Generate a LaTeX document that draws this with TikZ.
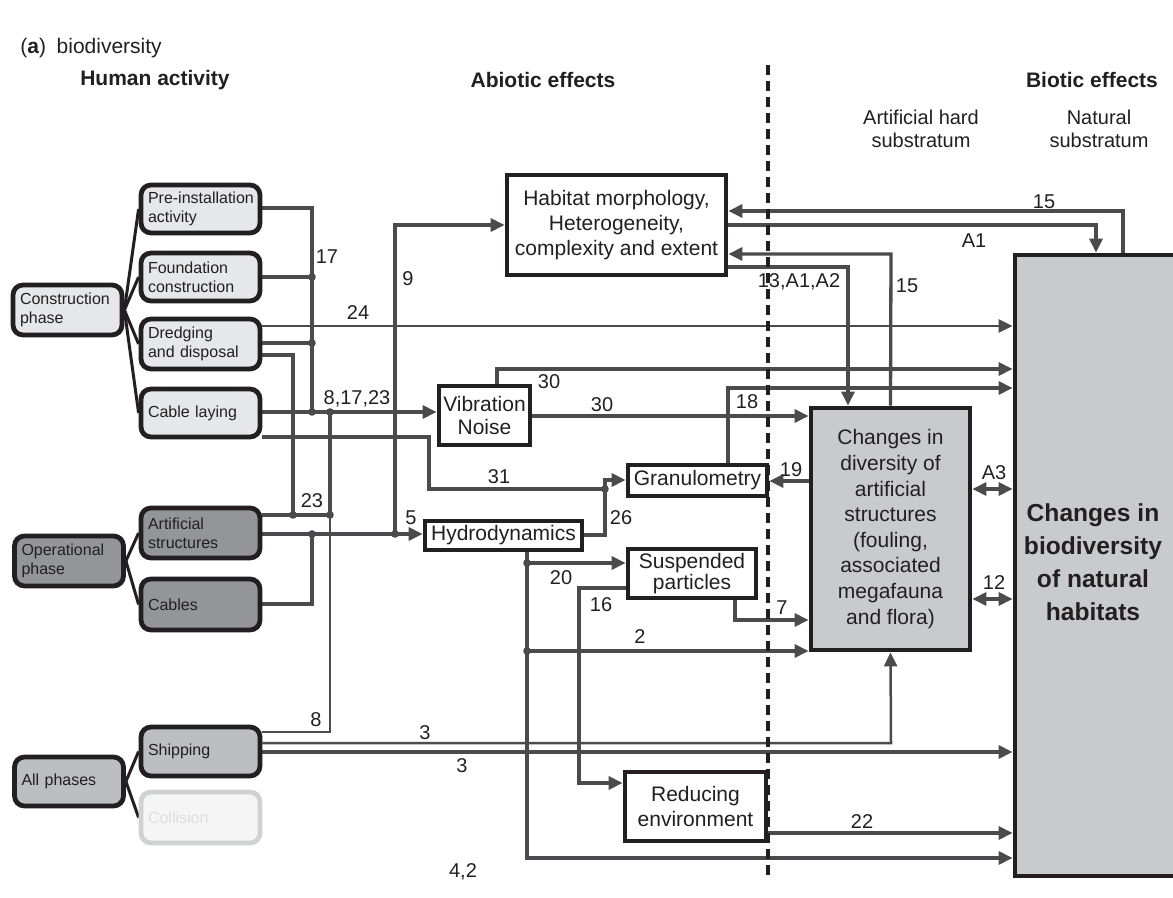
\documentclass[tikz,border=0pt]{standalone}
\usepackage{fontspec}
\setmainfont{Liberation Sans}
\usetikzlibrary{arrows.meta,calc}
\pgfdeclarelayer{bg}
\pgfsetlayers{bg,main}
\definecolor{linec}{HTML}{4B4B4D}
\definecolor{boxc}{HTML}{231F20}
\definecolor{txtc}{HTML}{231F20}
\definecolor{lfill}{HTML}{E6E7E8}
\definecolor{dfill}{HTML}{939598}
\definecolor{mfill}{HTML}{BCBEC0}
\definecolor{gfill}{HTML}{C9CACC}
\definecolor{cfill}{HTML}{F5F5F5}
\definecolor{cline}{HTML}{D0D1D3}
\definecolor{ctxt}{HTML}{DCDDDE}
\begin{document}
\begin{tikzpicture}[x=0.5pt,y=-0.5pt,
  every node/.style={text=txtc},
  conn/.style={draw=linec, line width=1.65pt},
  thinconn/.style={draw=linec, line width=1.25pt},
  arr/.style={-{Triangle[length=7pt,width=6.5pt]}},
  darr/.style={{Triangle[length=7pt,width=6.5pt]}-{Triangle[length=7pt,width=6.5pt]}},
  fan/.style={draw=boxc, line width=1.5pt},
  sbox/.style={draw=boxc, line width=2.4pt, rounded corners=5pt, inner xsep=3.5pt, inner ysep=0pt,
     font=\fontsize{8}{9.6}\selectfont, align=left, text width=52.5pt, minimum height=24pt},
  pbox/.style={sbox, text width=47.5pt, minimum height=25pt},
  mbox/.style={draw=boxc, line width=2.4pt, fill=white, inner sep=0pt, align=center,
     font=\fontsize{10.5}{12.5}\selectfont},
  lab/.style={font=\fontsize{10}{12}\selectfont, inner sep=0pt},
  hdr/.style={font=\bfseries\fontsize{10.5}{12.5}\selectfont, inner sep=0pt},
  sub/.style={font=\fontsize{10}{11.5}\selectfont, align=center, inner sep=0pt},
  dot/.style={fill=linec}
]
\useasboundingbox (0,0) rectangle (1173,898);
\clip (0,0) rectangle (1173,898);

% headers
\node[font=\fontsize{10.5}{12.5}\selectfont, anchor=west, inner sep=0pt] (title) at (20,48) {(\textbf{a})\enspace biodiversity};
\node[hdr] (hh) at (155,80) {Human activity};
\node[hdr] (ha) at (543,80) {Abiotic effects};
\node[hdr] (hb) at (1092,80) {Biotic effects};
\node[sub] (hart) at (921,129) {Artificial hard\\substratum};
\node[sub] (hnat) at (1099,129) {Natural\\substratum};

% left column
\node[pbox, fill=lfill] (cons) at (67.5,310) {Construction\\phase};
\node[sbox, fill=lfill] (pre) at (200.5,209) {\mbox{Pre-installation}\\activity};
\node[sbox, fill=lfill] (found) at (200.5,277) {Foundation\\construction};
\node[sbox, fill=lfill, minimum height=25pt] (dred) at (200.5,344) {Dredging\\and disposal};
\node[sbox, fill=lfill] (cable) at (200.5,413) {Cable laying};
\node[pbox, fill=dfill] (oper) at (69,561) {Operational\\phase};
\node[sbox, fill=dfill, minimum height=25pt] (art) at (200.5,533) {Artificial\\structures};
\node[sbox, fill=dfill, minimum height=25.5pt] (cbl) at (200.5,604.5) {Cables};
\node[pbox, fill=mfill, minimum height=24.5pt] (allph) at (69,781.5) {All phases};
\node[sbox, fill=mfill, minimum height=24.5pt] (ship) at (200.5,751.5) {Shipping};
\node[sbox, fill=cfill, draw=cline, minimum height=25.5pt, text=ctxt] (coll) at (200.5,817.5) {Collision};

% middle boxes
\node[mbox, minimum width=109.5pt, minimum height=50pt] (hab) at (616.5,225) {Habitat morphology,\\Heterogeneity,\\complexity and extent};
\node[mbox, minimum width=45.5pt, minimum height=29.5pt, font=\fontsize{10.5}{11.2}\selectfont] (vib) at (484.5,415.5) {Vibration\\Noise};
\node[mbox, minimum width=78.5pt, minimum height=14.5pt] (hyd) at (503.5,535.5) {Hydrodynamics};
\node[mbox, minimum width=69.5pt, minimum height=15.5pt] (gran) at (697.5,480.5) {Granulometry};
\node[mbox, minimum width=64pt, minimum height=24.5pt, font=\fontsize{10.5}{10.8}\selectfont] (susp) at (692,573.5) {Suspended\\particles};
\node[mbox, minimum width=70.5pt, minimum height=34.5pt] (red) at (695.5,806.5) {Reducing\\environment};
\node[mbox, fill=gfill, minimum width=79.5pt, minimum height=121pt, font=\fontsize{10.5}{12.8}\selectfont] (chg) at (890.5,529) {Changes in\\diversity of\\artificial\\structures\\(fouling,\\associated\\megafauna\\and flora)};
\node[draw=boxc, line width=2.4pt, fill=gfill, inner sep=0pt, minimum width=100pt, minimum height=310.5pt] (big) at (1115,565.5) {};
\node[font=\bfseries\fontsize{12.3}{16.5}\selectfont, align=center, inner sep=0pt] (bigt) at (1093,562) {Changes in\\biodiversity\\of natural\\habitats};

% junction coordinates
\coordinate (jf) at (312,277);
\coordinate (jd) at (312,343);
\coordinate (j17) at (312,412);
\coordinate (j8) at (330,412);
\coordinate (j23a) at (293,515);
\coordinate (j23b) at (330,515);
\coordinate (j5a) at (312,534);
\coordinate (j9) at (395,534);
\coordinate (j31) at (605,489);
\coordinate (j20) at (527,563);
\coordinate (j2) at (527,651);

\begin{pgfonlayer}{bg}
% fan lines
\draw[fan] (cons.east) -- (pre.west);
\draw[fan] (cons.east) -- (found.west);
\draw[fan] (cons.east) -- (dred.west);
\draw[fan] (cons.east) -- (cable.west);
\draw[fan] (oper.east) -- (art.west);
\draw[fan] (oper.east) -- (cbl.west);
\draw[fan] (allph.east) -- (ship.west);
\draw[fan] (allph.east) -- (coll.west);

% human activity -> abiotic
\draw[conn] (pre.east |- 0,208) -- (312,208) -- (j17);
\draw[conn] (found.east |- jf) -- (jf);
\draw[conn] (dred.east |- jd) -- (jd);
\draw[conn, arr] (cable.east |- j17) -- (vib.west |- j17);
\draw[thinconn] (ship.east |- 0,732) -- (330,732) -- (j8);
\draw[conn] (art.east |- j23a) -- (j23b) -- (j8);
\draw[conn] (dred.east |- 0,355) -- (293,355) -- (j23a);
\draw[thinconn, arr] (dred.east |- 0,326) -- (big.west |- 0,326);
\draw[conn, arr] (cable.east |- 0,437) -- (429,437) -- (429,489) -- (j31) -- (605,480) -- (gran.west |- 0,480);
\draw[conn] (hyd.east |- 0,535) -- (605,535) -- (j31);
\draw[conn, arr] (art.east |- j5a) -- (hyd.west |- j5a);
\draw[conn] (cbl.east |- 0,604) -- (312,604) -- (j5a);
\draw[conn, arr] (j9) -- (395,225) -- (hab.west |- 0,225);

% hydrodynamics outputs
\draw[conn, arr] (hyd.south -| 527,0) -- (527,858) -- (big.west |- 0,858);
\draw[conn, arr] (j20) -- (susp.west |- j20);
\draw[conn, arr] (j2) -- (chg.west |- j2);
\draw[conn, arr] (susp.west |- 0,588) -- (579,588) -- (579,783) -- (red.west |- 0,783);
\draw[conn, arr] (susp.south -| 735,0) -- (735,620) -- (chg.west |- 0,620);
\draw[conn, arr] (red.east |- 0,833) -- (big.west |- 0,833);

% shipping
\draw[thinconn, arr] (ship.east |- 0,743) -- (891,743) -- (chg.south);
\draw[conn, arr] (ship.east |- 0,752) -- (big.west |- 0,752);

% vibration, granulometry
\draw[conn, arr] (vib.north -| 497,0) -- (497,369) -- (big.west |- 0,369);
\draw[conn, arr] (vib.east |- 0,416) -- (chg.west |- 0,416);
\draw[conn, arr] (gran.north -| 728,0) -- (728,388) -- (big.west |- 0,388);
\draw[conn, arr] (chg.west |- 0,481) -- (gran.east |- 0,481);
\draw[conn, darr] (chg.east |- 0,489) -- (big.west |- 0,489);
\draw[conn, darr] (chg.east |- 0,599) -- (big.west |- 0,599);

% habitat links
\draw[conn, arr] (big.north -| 1123,0) -- (1123,211) -- (hab.east |- 0,211);
\draw[conn, arr] (hab.east |- 0,225) -- (1096,225) -- (big.north -| 1096,0);
\draw[conn, arr] (chg.north) -- (891,254) -- (hab.east |- 0,254);
\draw[conn, arr] (hab.east |- 0,267) -- (848,267) -- (chg.north -| 848,0);

% dots
\foreach \p in {jf,jd,j17,j8,j23a,j23b,j5a,j9,j31,j20,j2}
  \fill[dot] (\p) circle (1.9pt);

% dashed divider
\draw[draw=boxc, line width=1.7pt, dash pattern=on 5pt off 3pt] (768,65) -- (768,878);
\end{pgfonlayer}

% labels
\node[lab] (l17) at (327,257) {17};
\node[lab] (l24) at (358,313) {24};
\node[lab] (l9) at (408,279) {9};
\node[lab] (l81723) at (357,399) {8,17,23};
\node[lab] (l30a) at (549,382) {30};
\node[lab] (l30b) at (602,405) {30};
\node[lab] (l23) at (312,501) {23};
\node[lab] (l5) at (411,518) {5};
\node[lab] (l31) at (499,477) {31};
\node[lab] (l26) at (621,518) {26};
\node[lab] (l20) at (561,578) {20};
\node[lab] (l16) at (601,605) {16};
\node[lab] (l2) at (640,637) {2};
\node[lab] (l7) at (782,608) {7};
\node[lab] (l8) at (316,720) {8};
\node[lab] (l3a) at (425,733) {3};
\node[lab] (l3b) at (462,766) {3};
\node[lab] (l42) at (463,872) {4,2};
\node[lab] (l22) at (862,822) {22};
\node[lab] (l19) at (791,470) {19};
\node[lab] (l18) at (747,402) {18};
\node[lab] (lA3) at (994,473) {A3};
\node[lab] (l12) at (994,583) {12};
\node[lab] (l13) at (799,282) {13,A1,A2};
\node[lab] (l15b) at (907,286) {15};
\node[lab] (l15a) at (1044,202) {15};
\node[lab] (lA1) at (974,241) {A1};
\end{tikzpicture}
\end{document}
